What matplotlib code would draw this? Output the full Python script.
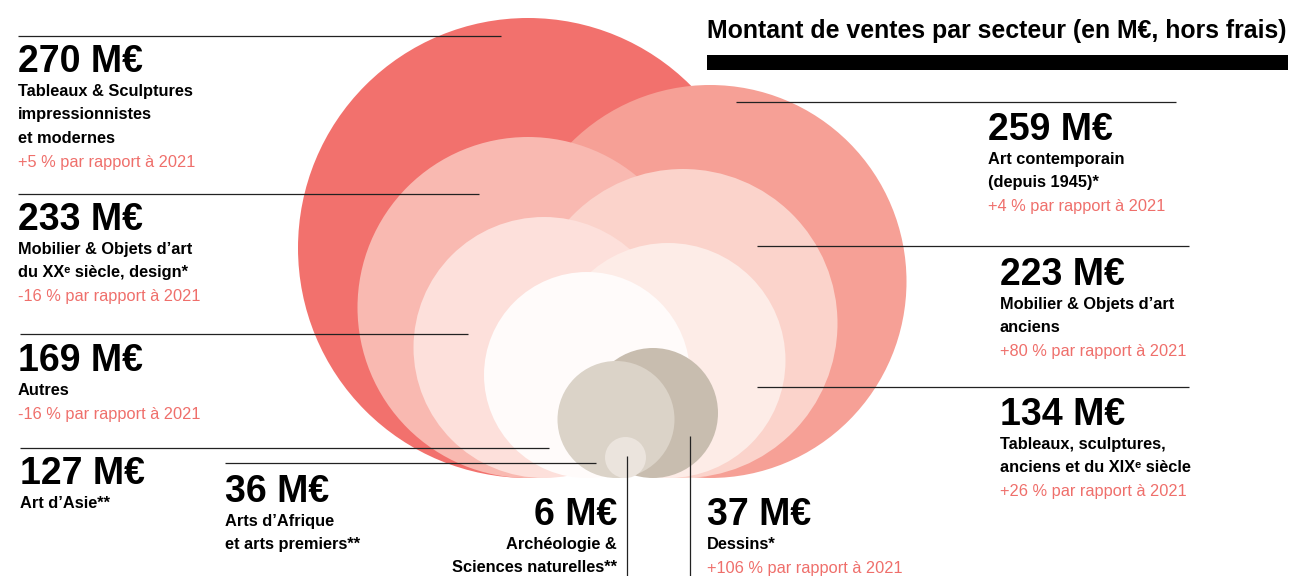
import matplotlib
matplotlib.use('Agg')
import matplotlib.pyplot as plt
from matplotlib.patches import Circle, Rectangle

# --- data ---
sales = [270, 259, 233, 223, 169, 134, 127, 37, 36, 6]
sectors = [
    ['Tableaux & Sculptures', 'impressionnistes', 'et modernes'],
    ['Art contemporain', '(depuis 1945)*'],
    ['Mobilier & Objets d’art', 'du XXᵉ siècle, design*'],
    ['Mobilier & Objets d’art', 'anciens'],
    ['Autres'],
    ['Tableaux, sculptures,', 'anciens et du XIXᵉ siècle'],
    ['Art d’Asie**'],
    ['Dessins*'],
    ['Arts d’Afrique', 'et arts premiers**'],
    ['Archéologie &', 'Sciences naturelles**'],
]
change_2021 = ['+5', '+4', '-16', '+80', '-16', '+26', None, '+106', None, None]

title = 'Montant de ventes par secteur (en M€, hors frais)'

# --- layout (pixels, y down) ---
base_y = 478
bubble_x = [528, 710, 528, 683, 544, 668, 587, 653, 616, 625.5]
bubble_r = [230, 196.5, 170.5, 154.5, 130.5, 117.5, 103, 65, 58.5, 20.5]
colors = ['#F2716D', '#F6A096', '#F9B9B1', '#FBD3CB', '#FDE0DB',
          '#FDECE7', '#FFFBFA', '#C8BDAF', '#DBD3C8', '#EBE4DD']

# label anchor: x, baseline of the big number, alignment
label_pos = [(18, 72, 'left'), (988, 140, 'left'), (18, 230, 'left'),
             (1000, 285, 'left'), (18, 371, 'left'), (1000, 425, 'left'),
             (20, 484, 'left'), (707, 525, 'left'), (225, 502, 'left'),
             (617, 525, 'right')]
leaders = [(18, 36, 501, 36), (736, 102, 1176, 102), (18, 194, 479, 194),
           (757, 246, 1189, 246), (20, 334, 468, 334), (757, 387, 1189, 387),
           (20, 448, 549, 448), (690, 436, 690, 576), (225, 463, 596, 463),
           (627, 456, 627, 576)]

FONT = ['Liberation Sans', 'DejaVu Sans']
PINK = '#EF6F6B'
step = 23.5

fig = plt.figure(figsize=(12.92, 5.76), dpi=100)
ax = fig.add_axes([0, 0, 1, 1])
ax.set_xlim(0, 1292)
ax.set_ylim(576, 0)
ax.axis('off')

for i, v in enumerate(sales):
    ax.add_patch(Circle((bubble_x[i], base_y - bubble_r[i]), bubble_r[i],
                        color=colors[i], lw=0, zorder=1 + i * 0.01))

for x0, y0, x1, y1 in leaders:
    ax.plot([x0, x1], [y0, y1], color='#222222', lw=0.9, zorder=3,
            solid_capstyle='butt')

for i, v in enumerate(sales):
    x, y, ha = label_pos[i]
    ax.text(x, y, f'{v} M€', family=FONT, weight='bold', fontsize=27,
            ha=ha, va='baseline', color='black', zorder=4)
    y += 24
    for line in sectors[i]:
        ax.text(x, y, line, family=FONT, weight='bold', fontsize=11.8,
                ha=ha, va='baseline', color='black', zorder=4)
        y += step
    if change_2021[i]:
        ax.text(x, y, f'{change_2021[i]} % par rapport à 2021', family=FONT,
                fontsize=11.8, ha=ha, va='baseline', color=PINK, zorder=4)

ax.text(707, 38, title, family=FONT, weight='bold', fontsize=17.9,
        ha='left', va='baseline', color='black')
ax.add_patch(Rectangle((707, 55), 581, 15, color='black', lw=0))

fig.savefig('out.png', dpi=100)
